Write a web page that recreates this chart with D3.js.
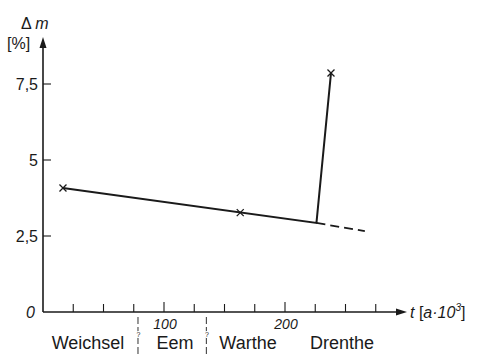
<!DOCTYPE html>
<html>
<head>
<meta charset="utf-8">
<script src="https://cdn.jsdelivr.net/npm/d3@7"></script>
<style>
  body { margin: 0; background: #fff; }
  svg { display: block; font-family: "Liberation Sans", Arial, sans-serif; }
</style>
</head>
<body>
<svg width="478" height="354"></svg>
<script>
// values
const tMain = [16.5, 226, 238];
const mMain = [4.08, 2.93, 7.86];
const tDash = [226, 266];
const mDash = [2.93, 2.66];
const tCross = [16.5, 163, 238];
const mCross = [4.08, 3.27, 7.86];
const xTicks = [25, 50, 75, 100, 125, 150, 175, 200, 225, 250, 275];
const xLabels = [100, 200];
const yTicks = [0, 2.5, 5, 7.5];
const epochs = ['Weichsel', 'Eem', 'Warthe', 'Drenthe'];
const epochPos = [88, 175, 248, 342];
const epochBounds = [78.5, 135];

const svg = d3.select('svg');
const ink = '#1a1a1a';

const x = d3.scaleLinear().domain([0, 200]).range([43, 285]);
const y = d3.scaleLinear().domain([0, 7.5]).range([312, 84]);

// axes
svg.append('line')
    .attr('x1', 43).attr('x2', 400)
    .attr('y1', y(0)).attr('y2', y(0))
    .attr('stroke', ink).attr('stroke-width', 1.6);
svg.append('path')
    .attr('d', 'M407,312 L396,308.5 L396,315.5 Z')
    .attr('fill', ink);
svg.append('line')
    .attr('x1', 43).attr('x2', 43)
    .attr('y1', y(0)).attr('y2', 46)
    .attr('stroke', ink).attr('stroke-width', 1.6);
svg.append('path')
    .attr('d', 'M43,37 L39.5,48 L46.5,48 Z')
    .attr('fill', ink);

// x ticks
svg.append('g').selectAll('line')
  .data(xTicks)
  .enter().append('line')
    .attr('x1', d => x(d)).attr('x2', d => x(d))
    .attr('y1', y(0))
    .attr('y2', d => y(0) - (d % 100 === 0 ? 10 : 8))
    .attr('stroke', ink).attr('stroke-width', 1.1);

svg.append('g').selectAll('text')
  .data(xLabels)
  .enter().append('text')
    .attr('x', d => x(d) + 1).attr('y', 329)
    .attr('text-anchor', 'middle')
    .attr('font-size', 14).attr('font-style', 'italic')
    .attr('fill', ink)
    .text(d => d);

// y ticks
svg.append('g').selectAll('line')
  .data(yTicks.filter(d => d > 0))
  .enter().append('line')
    .attr('x1', 43).attr('x2', 51)
    .attr('y1', d => y(d)).attr('y2', d => y(d))
    .attr('stroke', ink).attr('stroke-width', 1.1);

svg.append('g').selectAll('text')
  .data(yTicks)
  .enter().append('text')
    .attr('x', d => d === 0 ? 35 : 38)
    .attr('y', d => y(d) + 6)
    .attr('text-anchor', 'end')
    .attr('font-size', 16)
    .attr('font-style', d => d === 0 ? 'italic' : 'normal')
    .attr('fill', ink)
    .text(d => String(d).replace('.', ','));

// axis titles
svg.append('text')
    .attr('x', 21).attr('y', 29)
    .attr('font-size', 16).attr('fill', ink)
    .html('Δ <tspan font-style="italic">m</tspan>');
svg.append('text')
    .attr('x', 7).attr('y', 49)
    .attr('font-size', 16).attr('fill', ink)
    .text('[%]');
svg.append('text')
    .attr('x', 410).attr('y', 318)
    .attr('font-size', 16).attr('fill', ink)
    .html('<tspan font-style="italic">t</tspan> [<tspan font-style="italic">a·10</tspan><tspan font-size="10" dy="-7" font-style="italic">3</tspan><tspan dy="7">]</tspan>');

// epochs
svg.append('g').selectAll('text')
  .data(epochs)
  .enter().append('text')
    .attr('x', (d, i) => epochPos[i]).attr('y', 349)
    .attr('text-anchor', 'middle')
    .attr('font-size', 18).attr('fill', ink)
    .text(d => d);

const bounds = svg.append('g').selectAll('g')
  .data(epochBounds)
  .enter().append('g');
bounds.append('line')
    .attr('x1', d => x(d)).attr('x2', d => x(d))
    .attr('y1', 317).attr('y2', 354)
    .attr('stroke', ink).attr('stroke-width', 0.9)
    .attr('stroke-dasharray', '7,3');
bounds.append('text')
    .attr('x', d => x(d) + 0.5).attr('y', 337)
    .attr('text-anchor', 'middle')
    .attr('font-size', 7).attr('fill', ink)
    .attr('stroke', '#fff').attr('stroke-width', 2).attr('paint-order', 'stroke')
    .text('?');

// data lines
const line = d3.line()
    .x(d => x(d[0]))
    .y(d => y(d[1]));

svg.append('path')
    .datum(d3.zip(tMain, mMain))
    .attr('d', line)
    .attr('fill', 'none')
    .attr('stroke', ink).attr('stroke-width', 2);

svg.append('path')
    .datum(d3.zip(tDash, mDash))
    .attr('d', line)
    .attr('fill', 'none')
    .attr('stroke', ink).attr('stroke-width', 1.8)
    .attr('stroke-dasharray', '9,5');

svg.append('g').selectAll('path')
  .data(d3.zip(tCross, mCross))
  .enter().append('path')
    .attr('d', d => {
      const cx = x(d[0]), cy = y(d[1]), r = 3.5;
      return `M${cx - r},${cy - r}L${cx + r},${cy + r}M${cx - r},${cy + r}L${cx + r},${cy - r}`;
    })
    .attr('stroke', ink).attr('stroke-width', 1.3);
</script>
</body>
</html>
